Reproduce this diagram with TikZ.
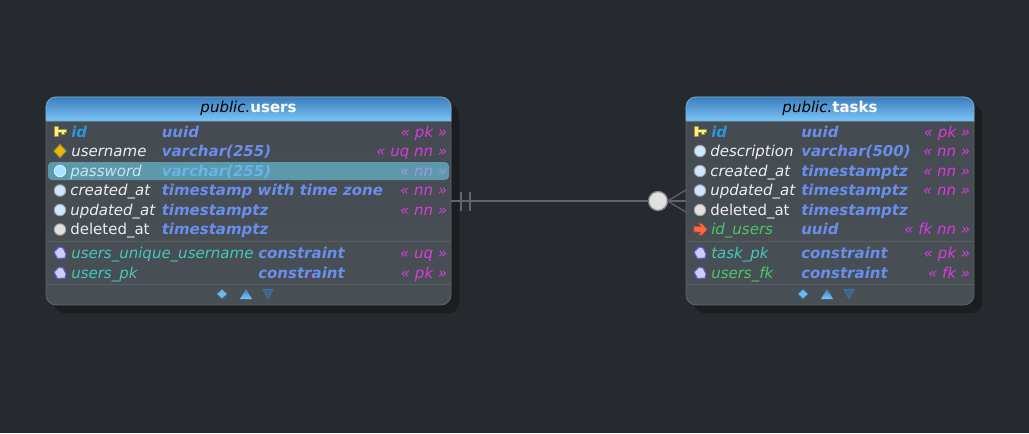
\documentclass[tikz,border=0pt]{standalone}
\usepackage{fontspec}
\setmainfont{DejaVu Sans}
\definecolor{bg}{HTML}{26292D}
\definecolor{shadowc}{HTML}{1B1E20}
\definecolor{bodyTop}{HTML}{444A50}
\definecolor{bodyBot}{HTML}{485056}
\definecolor{edgec}{HTML}{5C6369}
\definecolor{hdTop}{HTML}{3A7DBD}
\definecolor{hdBot}{HTML}{7DC5F7}
\definecolor{sepc}{HTML}{585E64}
\definecolor{pkc}{HTML}{2E94DC}
\definecolor{typec}{HTML}{6A8EEE}
\definecolor{tagc}{HTML}{D83CD8}
\definecolor{colc}{HTML}{EEEEEE}
\definecolor{conc}{HTML}{45C8B8}
\definecolor{fkc}{HTML}{50C46A}
\definecolor{linec}{HTML}{62666A}
\definecolor{conFill}{HTML}{CFCFFF}
\definecolor{conEdge}{HTML}{6A5FC8}
\definecolor{rowhl}{HTML}{5E99AB}
\definecolor{hltext}{HTML}{C4E6EE}
\definecolor{hltype}{HTML}{66B4EC}
\definecolor{hltag}{HTML}{9C98E0}
\definecolor{keyc}{HTML}{FFF27A}
\definecolor{ukc}{HTML}{F0B800}
\definecolor{dotl}{HTML}{A8E4FF}
\definecolor{dotb}{HTML}{CFE6FF}
\definecolor{dotg}{HTML}{E0E0E0}
\definecolor{arrowc}{HTML}{FF6A45}
\definecolor{circe}{HTML}{85888B}
\definecolor{circf}{HTML}{E0E0E0}
\tikzset{
  x=0.75pt,y=-0.75pt,
  txt/.style={inner sep=0pt,font=\fontsize{11.25pt}{13pt}\selectfont\itshape},
  colname/.style={txt,anchor=base west,text=colc},
  typ/.style={txt,anchor=base west,text=typec,font=\fontsize{11.25pt}{13pt}\selectfont\bfseries\itshape},
  tagtxt/.style={txt,anchor=base east,text=tagc},
  tbl/.style={rounded corners=7.5pt,minimum height=156pt,inner sep=0pt,outer sep=0pt,draw=edgec,line width=0.6pt,top color=bodyTop,bottom color=bodyBot},
  shd/.style={rounded corners=7.5pt,fill=shadowc},
  sepline/.style={draw=sepc,line width=0.75pt},
  dotmark/.style={circle,draw=#1!55!black!70!white,line width=0.7pt,inner sep=0pt,minimum size=8.6pt,fill=#1},
  rel/.style={draw=linec,line width=0.9pt},
  hdr/.style={top color=hdTop,bottom color=hdBot,draw=hdBot!70!edgec,line width=0.6pt},
}
\newcommand{\keyicon}[3]{\path[fill=#3,draw=#3!60!black,line width=0.6pt] (#1,#2-5.5)--(#1+4.5,#2-5.5)--(#1+4.5,#2-2.5)--(#1+12,#2-2.5)--(#1+12,#2+1)--(#1+10,#2+1)--(#1+10,#2+3)--(#1+7,#2+3)--(#1+7,#2+1)--(#1+4.5,#2+1)--(#1+4.5,#2+4.5)--(#1,#2+4.5)--cycle;}
\newcommand{\ukicon}[2]{\path[fill=#1,draw=#1!65!black!80!white,line width=0.7pt] (#2) +(-6,0)--+(0,-6.5)--+(6,0)--+(0,6.5)--cycle;}
\newcommand{\conicon}[1]{\path[fill=conFill,draw=conEdge,line width=0.8pt] (#1) +(-6,-1)--+(-1,-6)--+(3,-5)--+(6,1)--+(5,5)--+(-2.5,5.5)--cycle;}
\newcommand{\tabbtns}[1]{%
  \path[fill=hdBot!80!hdTop,draw=hdTop,line width=0.3pt] (#1-1,294) +(-5,0)--+(0,-4.5)--+(5,0)--+(0,4.5)--cycle;
  \path[top color=hdTop,bottom color=hdBot] (#1+17,299) -- (#1+23,289) -- (#1+29,299) -- cycle;
  \path[draw=hdTop!80!bodyTop,fill=hdTop!55!bodyTop,line width=0.7pt] (#1+40,289.5) -- (#1+50,289.5) -- (#1+45,298.5) -- cycle;
}
\begin{document}
\begin{tikzpicture}
\useasboundingbox[fill=bg] (0,0) rectangle (1029,433);
\path[shd] (54,105) rectangle (459,313);
\path[shd] (694,105) rectangle (982,313);
\node[tbl,minimum width=303.75pt] (users) at (248.5,201) {};
\node[tbl,minimum width=216pt] (tasks) at (830,201) {};
\path[hdr] (46,121) -- (46,107) arc[start angle=180,end angle=270,radius=10] -- (441,97) arc[start angle=270,end angle=360,radius=10] -- (451,121) -- cycle;
\path[hdr] (686,121) -- (686,107) arc[start angle=180,end angle=270,radius=10] -- (964,97) arc[start angle=270,end angle=360,radius=10] -- (974,121) -- cycle;
\node[inner sep=0pt,anchor=base,font=\fontsize{11.25pt}{13pt}\selectfont] (ut) at (248.5,112) {\textcolor{black}{\itshape public.}\textcolor{white}{\bfseries users}};
\node[inner sep=0pt,anchor=base,font=\fontsize{11.25pt}{13pt}\selectfont] (tt) at (830,112) {\textcolor{black}{\itshape public.}\textcolor{white}{\bfseries tasks}};
\path[fill=rowhl,rounded corners=3pt] (48,162) rectangle (449,180);
\draw[sepline] (46,241.5) -- (451,241.5);
\draw[sepline] (46,284.5) -- (451,284.5);
\draw[sepline] (686,241.5) -- (974,241.5);
\draw[sepline] (686,284.5) -- (974,284.5);
% users rows
\keyicon{54}{131.5}{keyc}
\node[colname,text=pkc,font=\fontsize{11.25pt}{13pt}\selectfont\bfseries\itshape] (u1) at (71,137) {id};
\node[typ] (u1t) at (161.5,137) {uuid};
\node[tagtxt] (u1g) at (447.5,137) {« pk »};
\coordinate (ic2) at (60,151); \ukicon{ukc}{ic2}
\node[colname] (u2) at (71,156.5) {username};
\node[typ] (u2t) at (161.5,156.5) {varchar(255)};
\node[tagtxt] (u2g) at (447.5,156.5) {« uq nn »};
\node[dotmark=dotl,draw=dotl!60!white] (ud3) at (60,171) {};
\node[colname,text=hltext] (u3) at (70,176) {password};
\node[typ,text=hltype] (u3t) at (161.5,176) {varchar(255)};
\node[tagtxt,text=hltag] (u3g) at (447.5,176) {« nn »};
\node[dotmark=dotb] (ud4) at (60,190.5) {};
\node[colname] (u4) at (70,195.5) {created\_at};
\node[typ] (u4t) at (161.5,195.5) {timestamp with time zone};
\node[tagtxt] (u4g) at (447.5,195.5) {« nn »};
\node[dotmark=dotb] (ud5) at (60,210) {};
\node[colname] (u5) at (70,215) {updated\_at};
\node[typ] (u5t) at (161.5,215) {timestamptz};
\node[tagtxt] (u5g) at (447.5,215) {« nn »};
\node[dotmark=dotg] (ud6) at (60,229.5) {};
\node[colname,font=\fontsize{11.25pt}{13pt}\selectfont] (u6) at (70,234.5) {deleted\_at};
\node[typ] (u6t) at (161.5,234.5) {timestamptz};
\coordinate (ic7) at (60,253); \conicon{ic7}
\node[colname,text=conc] (u7) at (71,258.5) {users\_unique\_username};
\node[typ] (u7t) at (258,258.5) {constraint};
\node[tagtxt] (u7g) at (447.5,258.5) {« uq »};
\coordinate (ic8) at (60,273); \conicon{ic8}
\node[colname,text=conc] (u8) at (71,278) {users\_pk};
\node[typ] (u8t) at (258,278) {constraint};
\node[tagtxt] (u8g) at (447.5,278) {« pk »};
\tabbtns{223}
% tasks rows
\keyicon{694}{131.5}{keyc}
\node[colname,text=pkc,font=\fontsize{11.25pt}{13pt}\selectfont\bfseries\itshape] (t1) at (711,137) {id};
\node[typ] (t1t) at (801,137) {uuid};
\node[tagtxt] (t1g) at (970.5,137) {« pk »};
\node[dotmark=dotb] (td2) at (700,151) {};
\node[colname] (t2) at (710,156.5) {description};
\node[typ] (t2t) at (801,156.5) {varchar(500)};
\node[tagtxt] (t2g) at (970.5,156.5) {« nn »};
\node[dotmark=dotb] (td3) at (700,171) {};
\node[colname] (t3) at (710,176) {created\_at};
\node[typ] (t3t) at (801,176) {timestamptz};
\node[tagtxt] (t3g) at (970.5,176) {« nn »};
\node[dotmark=dotb] (td4) at (700,190.5) {};
\node[colname] (t4) at (710,195.5) {updated\_at};
\node[typ] (t4t) at (801,195.5) {timestamptz};
\node[tagtxt] (t4g) at (970.5,195.5) {« nn »};
\node[dotmark=dotg] (td5) at (700,210) {};
\node[colname,font=\fontsize{11.25pt}{13pt}\selectfont] (t5) at (710,215) {deleted\_at};
\node[typ] (t5t) at (801,215) {timestamptz};
\path[fill=arrowc,draw=arrowc!70!black,line width=0.4pt] (694,226.5)--(701,226.5)--(698.5,223.5)--(702,223.5)--(707,229.5)--(702,235)--(698.5,235)--(701,232)--(694,232)--cycle;
\node[colname,text=fkc] (t6) at (711,234.5) {id\_users};
\node[typ] (t6t) at (801,234.5) {uuid};
\node[tagtxt] (t6g) at (970.5,234.5) {« fk nn »};
\coordinate (ic9) at (700,253); \conicon{ic9}
\node[colname,text=conc] (t7) at (711,258.5) {task\_pk};
\node[typ] (t7t) at (801,258.5) {constraint};
\node[tagtxt] (t7g) at (970.5,258.5) {« pk »};
\coordinate (ic10) at (700,273); \conicon{ic10}
\node[colname,text=fkc] (t8) at (711,278) {users\_fk};
\node[typ] (t8t) at (801,278) {constraint};
\node[tagtxt] (t8g) at (970.5,278) {« fk »};
\tabbtns{804}
% relationship
\node[circle,draw=circe,fill=circf,line width=1pt,inner sep=0pt,outer sep=0pt,minimum size=14.25pt] (rc) at (658,201) {};
\draw[rel] (users.east) -- (rc);
\draw[rel] (rc) -- (tasks.west);
\draw[rel] (rc.east) -- (686,190);
\draw[rel] (rc.east) -- (686,212);
\draw[rel] (461,192) -- (461,211);
\draw[rel] (470,192) -- (470,211);
\end{tikzpicture}
\end{document}
